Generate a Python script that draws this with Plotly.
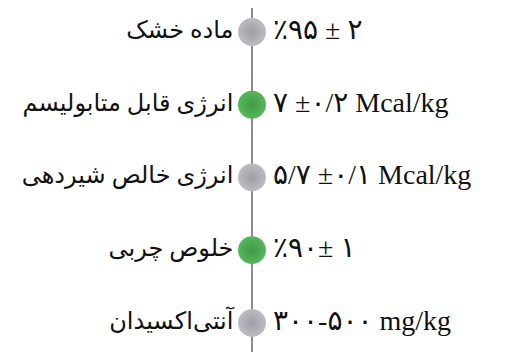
import plotly.graph_objects as go

# Persian specification items (label, value) and which ones are highlighted
LABELS = [
    "ماده خشک",
    "انرژی قابل متابولیسم",
    "انرژی خالص شیردهی",
    "خلوص چربی",
    "آنتی\u200cاکسیدان",
]
VALUES = [
    "٪۹۵ ± ۲",
    "۷ ±۰/۲ Mcal/kg",
    "۵/۷ ±۰/۱ Mcal/kg",
    "٪۹۰± ۱",
    "۳۰۰-۵۰۰ mg/kg",
]
HIGHLIGHT = [False, True, False, True, False]

GRAY, GRAY_EDGE = "#bcbcc2", "#9e9ea6"
GREEN, GREEN_EDGE = "#58b65c", "#3f9c45"

rows = list(range(len(LABELS)))
xs = [0] * len(LABELS)
fill = [GREEN if h else GRAY for h in HIGHLIGHT]
edge = [GREEN_EDGE if h else GRAY_EDGE for h in HIGHLIGHT]
pad = "\u00a0"

FONT = "Liberation Serif, 'DejaVu Serif', 'DejaVu Sans', serif"

fig = go.Figure()
fig.add_trace(go.Scatter(
    x=xs, y=rows, mode="markers+text", text=LABELS,
    textposition="middle left",
    textfont=dict(size=24, color="#111111", family=FONT),
    marker=dict(size=28, color=fill, line=dict(width=0),
                gradient=dict(type="radial", color=edge)),
    hoverinfo="skip", showlegend=False,
))
fig.add_trace(go.Scatter(
    x=xs, y=rows, mode="text", text=[pad * 3 + v for v in VALUES],
    textposition="middle right",
    textfont=dict(size=28, color="#111111", family=FONT),
    hoverinfo="skip", showlegend=False,
))

# page body has an 8px margin, so the figure is a bit smaller than the window
fig.update_layout(
    width=500, height=344,
    margin=dict(l=0, r=0, t=0, b=0),
    paper_bgcolor="white", plot_bgcolor="white",
    xaxis=dict(range=[-0.953, 1.0], visible=True, showgrid=False,
               showticklabels=False, ticks="", zeroline=True,
               zerolinecolor="#8c8c8c", zerolinewidth=2, fixedrange=True),
    yaxis=dict(range=[4.40, -0.33], visible=False, fixedrange=True),
)

fig.write_html("out.html")
